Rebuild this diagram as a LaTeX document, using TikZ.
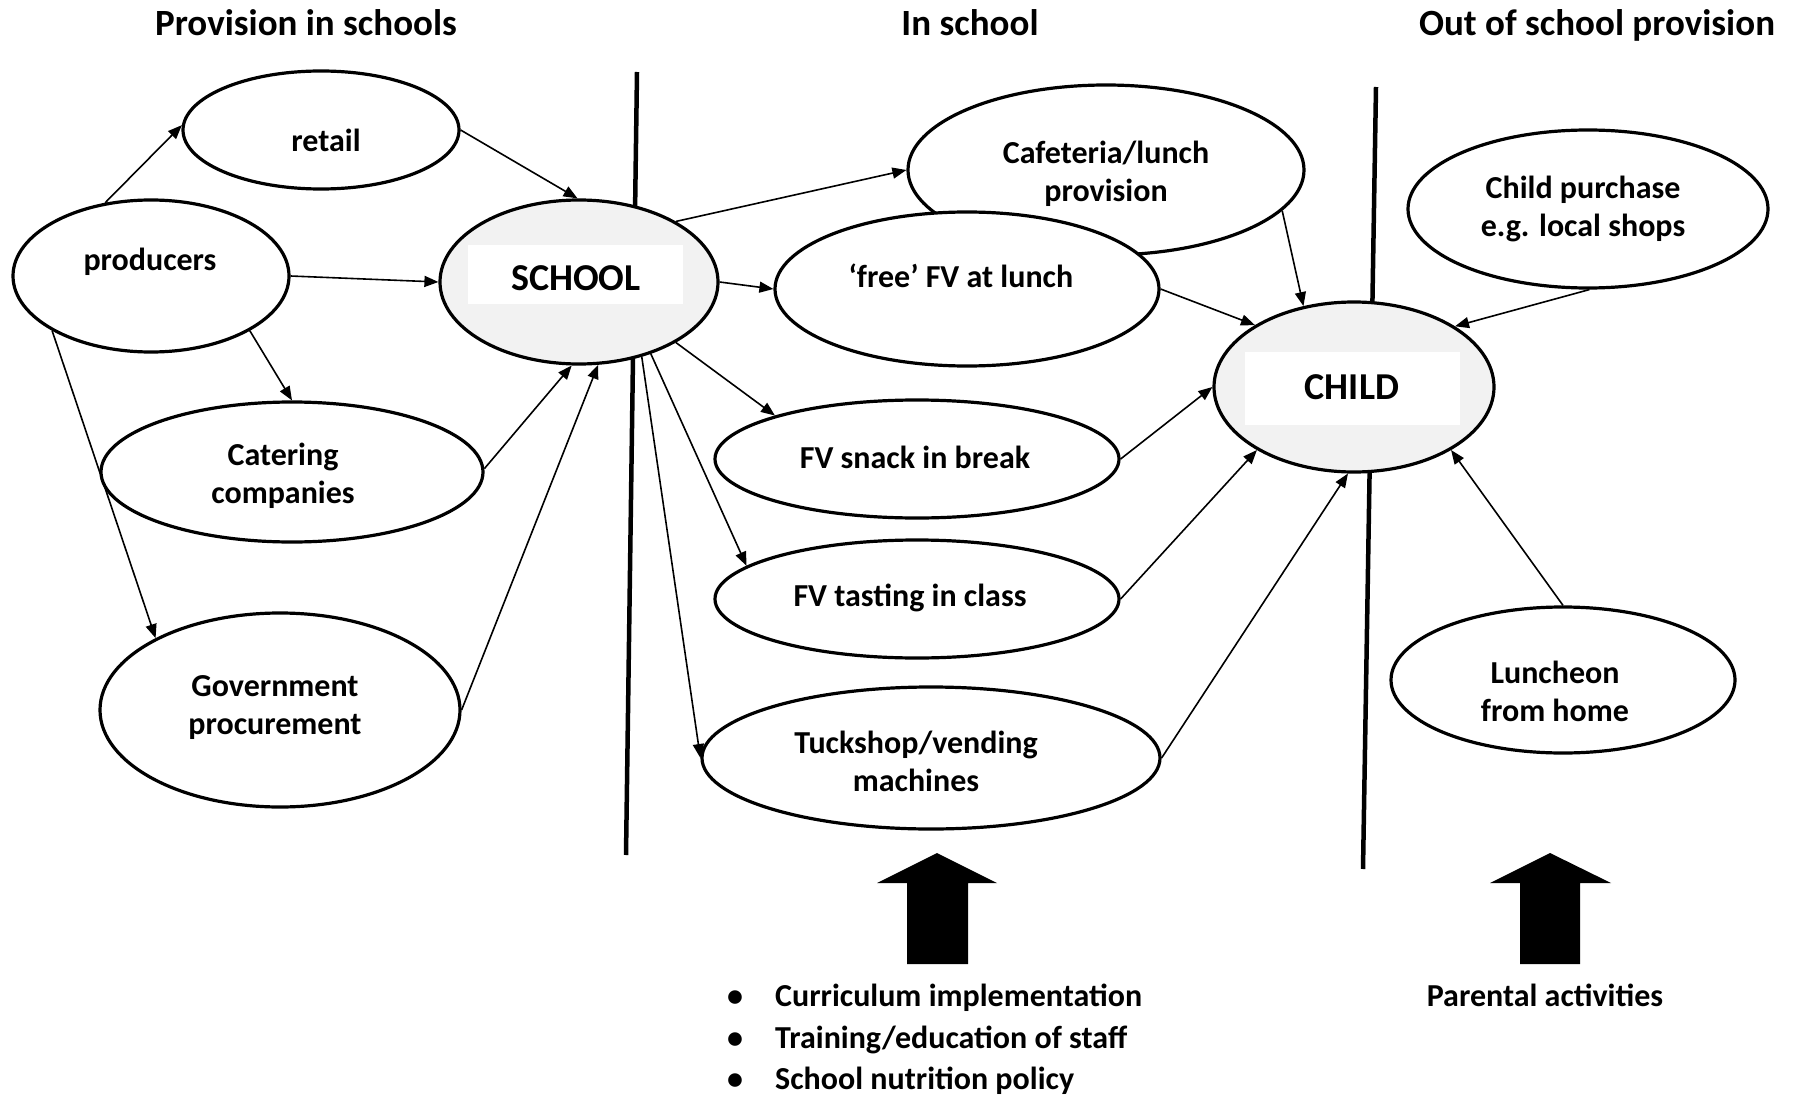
\documentclass[tikz,border=0pt]{standalone}
\usepackage{fontspec}
\setmainfont{Carlito}
\usetikzlibrary{shapes.geometric,arrows.meta}
\definecolor{hubgray}{HTML}{F2F2F2}
\begin{document}
\begin{tikzpicture}[x=1pt,y=-1pt,
  oval/.style={ellipse, draw=black, line width=3.2pt, fill=white, inner sep=0pt},
  hub/.style={oval, fill=hubgray},
  lbl/.style={font=\bfseries\fontsize{32}{38.5}\selectfont, align=center, inner sep=0pt},
  title/.style={font=\bfseries\fontsize{37}{42}\selectfont, inner sep=0pt, anchor=base},
  hublbl/.style={font=\bfseries\fontsize{38}{42}\selectfont, inner sep=0pt},
  bul/.style={font=\bfseries\fontsize{32}{41.3}\selectfont, align=left, inner sep=0pt},
  conn/.style={line width=1.6pt, -{Triangle[length=14pt,width=11pt]}},
  divider/.style={line width=4.5pt},
  whitebox/.style={fill=white, draw=none, inner sep=0pt}
]
\useasboundingbox (0,0) rectangle (1800,1097);
\fill[white] (0,0) rectangle (1800,1097);

% titles
\node[title] (t1) at (306,36) {Provision in schools};
\node[title] (t2) at (970,36) {In school};
\node[title] (t3) at (1597,36) {Out of school provision};

% dividers
\coordinate (d1a) at (637,72);
\coordinate (d1b) at (626,855);
\coordinate (d2a) at (1376,87);
\coordinate (d2b) at (1363,869);
\draw[divider] (d1a) -- (d1b);
\draw[divider] (d2a) -- (d2b);

% ellipses
\node[oval, minimum width=276pt, minimum height=118pt] (retail) at (321,130) {};
\node[oval, minimum width=276pt, minimum height=152pt] (prod) at (151,276) {};
\node[hub, minimum width=278pt, minimum height=164pt] (school) at (579,282) {};
\node[oval, minimum width=382pt, minimum height=140pt] (cater) at (292,472) {};
\node[oval, minimum width=360pt, minimum height=194pt] (gov) at (280,710) {};
\node[oval, minimum width=396pt, minimum height=170pt] (cafe) at (1106,170) {};
\node[oval, minimum width=384pt, minimum height=154pt] (free) at (967,289) {};
\node[oval, minimum width=404pt, minimum height=118pt] (snack) at (917,459) {};
\node[oval, minimum width=404pt, minimum height=118pt] (taste) at (917,599) {};
\node[oval, minimum width=458pt, minimum height=142pt] (tuck) at (931,758) {};
\node[hub, minimum width=280pt, minimum height=170pt] (child) at (1354,387) {};
\node[oval, minimum width=360pt, minimum height=158pt] (purch) at (1588,209) {};
\node[oval, minimum width=344pt, minimum height=146pt] (lunch) at (1563,680) {};

% white label boxes in the hubs
\node[whitebox, minimum width=215pt, minimum height=59pt] (schoolbox) at (575.5,274.5) {};
\node[whitebox, minimum width=215pt, minimum height=73pt] (childbox) at (1352.5,388.5) {};

% labels
\node[lbl] (retail-t) at (326,140) {retail};
\node[lbl] (prod-t) at (150,262) {producers};
\node[hublbl] (school-t) at (576,278) {SCHOOL};
\node[lbl] (cater-t) at (283,476) {Catering\\companies};
\node[lbl] (gov-t) at (275,707.5) {Government\\procurement};
\node[lbl] (cafe-t) at (1106,174) {Cafeteria/lunch\\provision};
\node[lbl] (free-t) at (961,276) {‘free’ FV at lunch};
\node[lbl] (snack-t) at (915,457) {FV snack in break};
\node[lbl] (taste-t) at (910,598) {FV tasting in class};
\node[lbl] (tuck-t) at (916,761.5) {Tuckshop/vending\\machines};
\node[hublbl] (child-t) at (1352,387) {CHILD};
\node[lbl] (purch-t) at (1583,209) {Child purchase\\e.g. local shops};
\node[lbl] (lunch-t) at (1555,691.5) {Luncheon\\from home};

% connectors
\draw[conn] (prod.122) -- (retail.178);
\draw[conn] (retail.0) -- (school.91);
\draw[conn] (prod.0) -- (school.180);
\draw[conn] (prod.-29) -- (cater.90);
\draw[conn] (prod.-151) -- (gov.150);
\draw[conn] (cater.1) -- (school.-95);
\draw[conn] (gov.0) -- (school.-77);
\draw[conn] (school.32) -- (cafe.180);
\draw[conn] (school.0) -- (free.180);
\draw[conn] (school.-32) -- (snack.163);
\draw[conn] (school.-45) -- (taste.169);
\draw[conn] (school.-50) -- (tuck.180);
\draw[conn] (cafe.-13) -- (child.122);
\draw[conn] (free.0) -- (child.148);
\draw[conn] (purch.-89) -- (child.31);
\draw[conn] (snack.0) -- (child.180);
\draw[conn] (taste.0) -- (child.-147);
\draw[conn] (tuck.0) -- (child.-94);
\draw[conn] (lunch.90) -- (child.-33);

% block arrows
\fill[black] (937,853) -- (997,883) -- (968,883) -- (968,964) -- (907,964) -- (907,883) -- (877,883) -- cycle;
\fill[black] (1550,853) -- (1611,883) -- (1580,883) -- (1580,964) -- (1520,964) -- (1520,883) -- (1490,883) -- cycle;

% bottom texts
\node[bul, anchor=west] (bullets) at (727,1039.5) {\makebox[48pt][l]{\textbullet}Curriculum implementation\\\makebox[48pt][l]{\textbullet}Training/education of staff\\\makebox[48pt][l]{\textbullet}School nutrition policy};
\node[lbl] (parent) at (1545,995) {Parental activities};
\end{tikzpicture}
\end{document}
